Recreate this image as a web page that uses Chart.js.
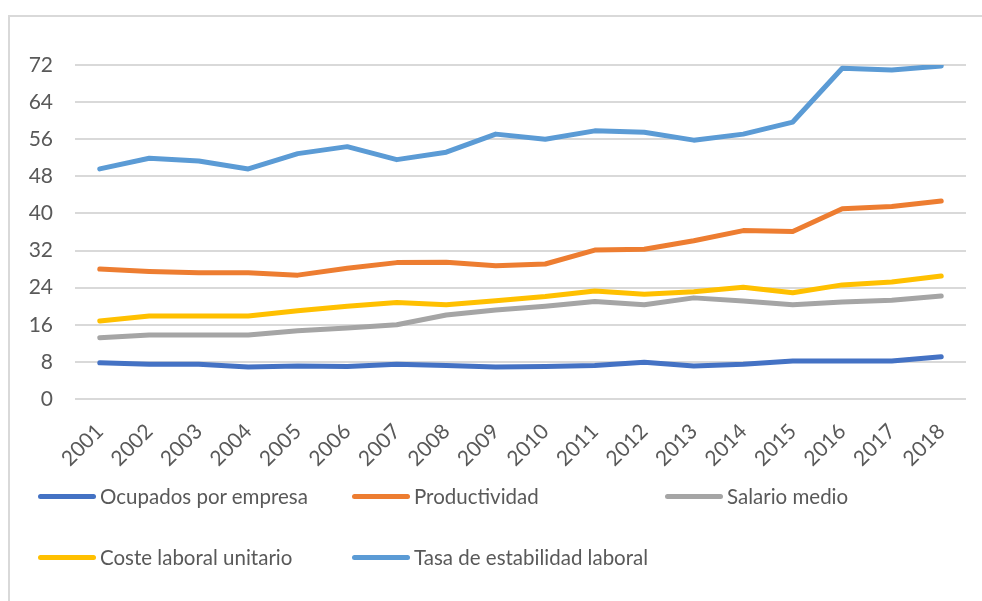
<!DOCTYPE html>
<html lang="es">
<head>
    <meta charset="UTF-8">
    <title>Indicadores laborales 2001-2018</title>
    <script src="https://cdn.jsdelivr.net/npm/chart.js"></script>
    <style>
        body {
            margin: 0;
            padding: 0;
            background: #fff;
            font-family: Lato, Arial, sans-serif;
        }
        .wrap {
            position: relative;
            width: 982px;
            height: 601px;
            overflow: hidden;
        }
        .frame {
            position: absolute;
            left: 8px;
            top: 15px;
            width: 1000px;
            height: 700px;
            border-top: 2px solid #d9d9d9;
            border-left: 2px solid #d9d9d9;
        }
        canvas {
            position: absolute;
            left: 0;
            top: 0;
        }
        .legend {
            position: absolute;
            left: 38px;
            top: 484px;
            display: grid;
            grid-template-columns: 314px 313px auto;
            row-gap: 37px;
        }
        .legend-item {
            display: flex;
            align-items: center;
            height: 24px;
            white-space: nowrap;
        }
        .legend-line {
            display: inline-block;
            width: 58px;
            height: 5px;
            border-radius: 3px;
            margin-right: 4px;
        }
        .legend-item span {
            font-size: 20.5px;
            color: #595959;
        }
    </style>
</head>
<body>
<div class="wrap">
    <div class="frame"></div>
    <canvas id="chart" width="982" height="601"></canvas>
    <div id="legend" class="legend"></div>
</div>

<script>
    const years = ['2001', '2002', '2003', '2004', '2005', '2006', '2007', '2008', '2009',
                   '2010', '2011', '2012', '2013', '2014', '2015', '2016', '2017', '2018'];

    const ocupados = [7.8, 7.5, 7.5, 6.9, 7.1, 7.0, 7.5, 7.2, 6.9, 7.0, 7.2, 7.9, 7.1, 7.5, 8.2, 8.2, 8.2, 9.1];
    const productividad = [28.0, 27.5, 27.2, 27.2, 26.7, 28.2, 29.4, 29.5, 28.7, 29.1, 32.1, 32.3, 34.1, 36.3, 36.1, 41.0, 41.5, 42.7];
    const salario = [13.2, 13.8, 13.8, 13.8, 14.7, 15.3, 16.0, 18.1, 19.2, 20.0, 21.0, 20.3, 21.8, 21.1, 20.3, 20.9, 21.3, 22.2];
    const coste = [16.8, 17.9, 17.9, 17.9, 19.0, 20.0, 20.8, 20.3, 21.2, 22.1, 23.3, 22.6, 23.1, 24.1, 22.9, 24.6, 25.2, 26.5];
    const tasa = [49.6, 51.9, 51.3, 49.6, 52.9, 54.4, 51.6, 53.2, 57.1, 56.0, 57.8, 57.5, 55.8, 57.1, 59.7, 71.3, 70.9, 71.8];

    const yTicks = [0, 8, 16, 24, 32, 40, 48, 56, 64, 72];

    const series = [
        { label: 'Ocupados por empresa', data: ocupados, color: '#4472c4' },
        { label: 'Productividad', data: productividad, color: '#ed7d31' },
        { label: 'Salario medio', data: salario, color: '#a5a5a5' },
        { label: 'Coste laboral unitario', data: coste, color: '#ffc000' },
        { label: 'Tasa de estabilidad laboral', data: tasa, color: '#5b9bd5' }
    ];

    const tickFont = { family: 'Lato, Arial, sans-serif', size: 21 };

    new Chart(document.getElementById('chart'), {
        type: 'line',
        data: {
            labels: years,
            datasets: series.map(s => ({
                label: s.label,
                data: s.data,
                borderColor: s.color,
                backgroundColor: s.color,
                borderWidth: 5,
                pointRadius: 0,
                borderCapStyle: 'round',
                borderJoinStyle: 'round',
                tension: 0
            }))
        },
        options: {
            responsive: false,
            animation: false,
            layout: {
                padding: { left: 0, top: 65, right: 16, bottom: 132 }
            },
            plugins: {
                legend: { display: false },
                tooltip: { enabled: false }
            },
            scales: {
                x: {
                    offset: true,
                    grid: { display: false, drawTicks: false },
                    border: { display: false },
                    ticks: {
                        color: '#595959',
                        font: tickFont,
                        minRotation: 45,
                        maxRotation: 45,
                        autoSkip: false,
                        padding: 20
                    },
                    afterFit: scale => { scale.height = 70; }
                },
                y: {
                    min: 0,
                    max: 72,
                    afterBuildTicks: scale => {
                        scale.ticks = yTicks.map(v => ({ value: v }));
                    },
                    grid: { color: '#d9d9d9', lineWidth: 2, drawTicks: false },
                    border: { display: false },
                    ticks: {
                        color: '#595959',
                        font: tickFont,
                        padding: 22
                    },
                    afterFit: scale => { scale.width = 75; }
                }
            }
        }
    });

    // legend laid out like the original: three columns, two rows
    const legend = document.getElementById('legend');
    series.forEach(s => {
        const item = document.createElement('div');
        item.className = 'legend-item';
        item.innerHTML = `<div class="legend-line" style="background:${s.color}"></div><span>${s.label}</span>`;
        legend.appendChild(item);
    });
</script>
</body>
</html>
